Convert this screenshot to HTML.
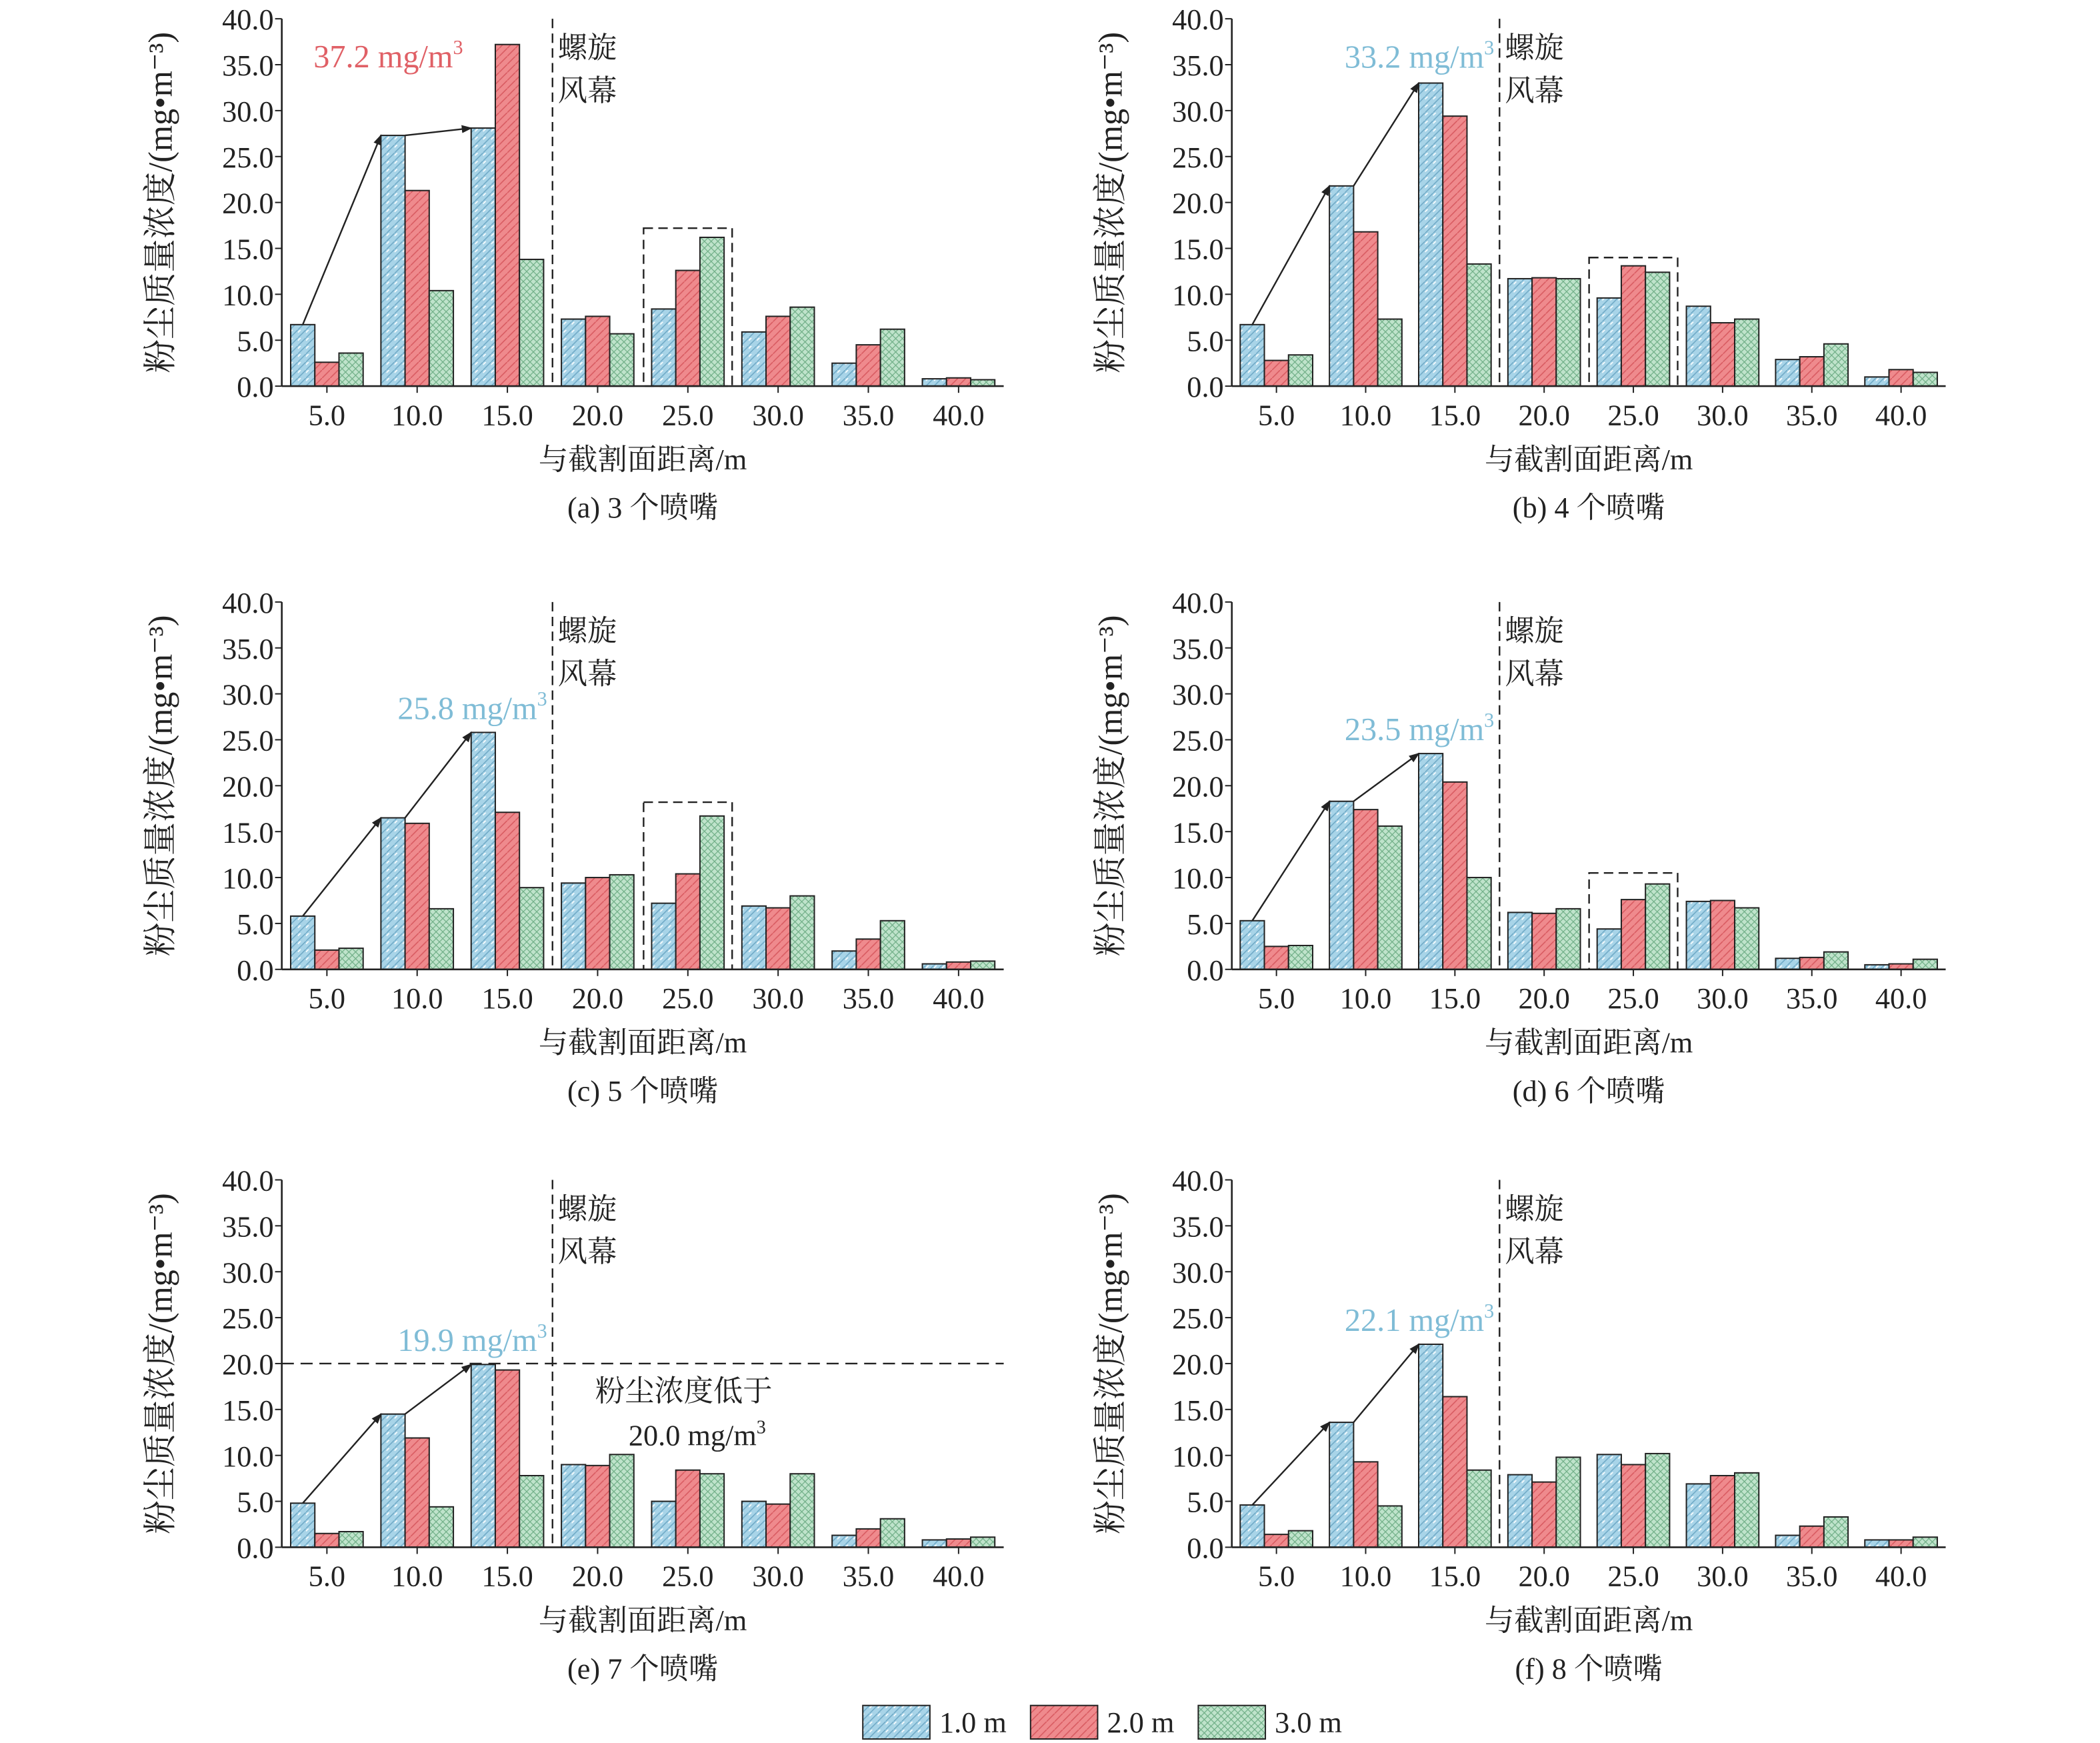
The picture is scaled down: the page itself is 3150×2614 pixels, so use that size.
<!DOCTYPE html>
<html><head><meta charset="utf-8"><style>
html,body{margin:0;padding:0;background:#fff;}
svg{display:block;font-family:"Liberation Serif","Noto Serif CJK SC",serif;}
</style></head><body>
<svg id="chart" width="3150" height="2614" viewBox="0 0 1565 1300" preserveAspectRatio="none" xmlns="http://www.w3.org/2000/svg">
<defs>
<pattern id="pb" width="6" height="6" patternUnits="userSpaceOnUse"><rect width="6" height="6" fill="#a8d4e8"/><path d="M0 6L6 0" stroke="#6fa9c6" stroke-width="0.8"/><path d="M0 2L2 0" stroke="#fff" stroke-width="0.8"/></pattern>
<pattern id="pr" width="6" height="6" patternUnits="userSpaceOnUse"><rect width="6" height="6" fill="#ef8a8d"/><path d="M0 6L6 0" stroke="#d85a60" stroke-width="0.8"/></pattern>
<pattern id="pg" width="5" height="5" patternUnits="userSpaceOnUse"><rect width="5" height="5" fill="#bfe3cb"/><path d="M0 0L5 5M5 0L0 5" stroke="#6fae86" stroke-width="0.6"/></pattern>
<marker id="arr" markerWidth="8" markerHeight="8" refX="7" refY="4" orient="auto" markerUnits="userSpaceOnUse"><path d="M0 1L8 4L0 7Z" fill="#222"/></marker>
</defs>
</svg>
<script>
const categories=["5.0","10.0","15.0","20.0","25.0","30.0","35.0","40.0"];
const yTicks=[0,5,10,15,20,25,30,35,40];
const seriesNames=["1.0 m","2.0 m","3.0 m"];
const a1=[6.7,27.3,28.1,7.3,8.4,5.9,2.5,0.8],a2=[2.6,21.3,37.2,7.6,12.6,7.6,4.5,0.9],a3=[3.6,10.4,13.8,5.7,16.2,8.6,6.2,0.7];
const b1=[6.7,21.8,33.0,11.7,9.6,8.7,2.9,1.0],b2=[2.8,16.8,29.4,11.8,13.1,6.9,3.2,1.8],b3=[3.4,7.3,13.3,11.7,12.4,7.3,4.6,1.5];
const c1=[5.8,16.5,25.8,9.4,7.2,6.9,2.0,0.6],c2=[2.1,15.9,17.1,10.0,10.4,6.7,3.3,0.8],c3=[2.3,6.6,8.9,10.3,16.7,8.0,5.3,0.9];
const d1=[5.3,18.3,23.5,6.2,4.4,7.4,1.2,0.5],d2=[2.5,17.4,20.4,6.1,7.6,7.5,1.3,0.6],d3=[2.6,15.6,10.0,6.6,9.3,6.7,1.9,1.1];
const e1=[4.8,14.5,19.9,9.0,5.0,5.0,1.3,0.8],e2=[1.5,11.9,19.3,8.9,8.4,4.7,2.0,0.9],e3=[1.7,4.4,7.8,10.1,8.0,8.0,3.1,1.1];
const f1=[4.6,13.6,22.1,7.9,10.1,6.9,1.3,0.8],f2=[1.4,9.3,16.4,7.1,9.0,7.8,2.3,0.8],f3=[1.8,4.5,8.4,9.8,10.2,8.1,3.3,1.1];
const peaks=["37.2","33.2","25.8","23.5","19.9","22.1"];
const boxTops=[17.2,14.0,18.2,10.5,null,null];
const captions=["(a) 3 个喷嘴","(b) 4 个喷嘴","(c) 5 个喷嘴","(d) 6 个喷嘴","(e) 7 个喷嘴","(f) 8 个喷嘴"];
const panels=[[a1,a2,a3],[b1,b2,b3],[c1,c2,c3],[d1,d2,d3],[e1,e2,e3],[f1,f2,f3]];
const svg=document.getElementById('chart');const NS="http://www.w3.org/2000/svg";
function mk(t,at,p){const e=document.createElementNS(NS,t);for(const k in at)e.setAttribute(k,at[k]);(p||svg).appendChild(e);return e;}
function tx(x,y,s,at,p){const e=mk('text',Object.assign({x:x,y:y,'font-size':22,fill:'#222'},at),p);e.textContent=s;return e;}
const fills=["url(#pb)","url(#pr)","url(#pg)"];
const xL=[210,918],yB=[288,723,1154],W=[538,532],H=274;
panels.forEach((ser,pi)=>{
 const col=pi%2,row=Math.floor(pi/2),x0=xL[col],y0=yB[row],w=W[col];
 const g=mk('g',{});
 
 
 const cw=w/categories.length;
 const X=i=>x0+cw*(i+0.5);
 const Y=v=>y0-v/40*H;
 const bw=18;
 ser.forEach((vals,si)=>vals.forEach((v,i)=>{
  const r=mk('rect',{x:X(i)-27+si*bw,y:Y(v),width:bw,height:y0-Y(v),fill:fills[si],stroke:'#222','stroke-width':1},g);
  
  
 }));
 mk('line',{x1:x0,y1:y0-H,x2:x0,y2:y0,stroke:'#222','stroke-width':1.3},g);
 mk('line',{x1:x0,y1:y0,x2:x0+w,y2:y0,stroke:'#222','stroke-width':1.3},g);
 yTicks.forEach(t=>{mk('line',{x1:x0-5,y1:Y(t),x2:x0,y2:Y(t),stroke:'#222'},g);
  const l=tx(x0-6,Y(t)+8,t.toFixed(1),{'text-anchor':'end'},g);
  
  });
 categories.forEach((c,i)=>{mk('line',{x1:X(i),y1:y0,x2:X(i),y2:y0+5,stroke:'#222'},g);
  const l=tx(X(i),y0+29,c,{'text-anchor':'middle'},g);
  
  });
 const xt=tx(x0+w/2,y0+62,"与截割面距离/m",{'text-anchor':'middle'},g);
 
 
 const cp=tx(x0+w/2,y0+98,captions[pi],{'text-anchor':'middle'},g);
 
 
 const yt=tx(0,0,"粉尘质量浓度/(mg•m⁻³)",{'text-anchor':'middle','font-size':25,transform:`translate(${x0-82},${y0-H/2}) rotate(-90)`},g);
 
 
 const dx=x0+cw*3;
 mk('line',{x1:dx,y1:y0-H,x2:dx,y2:y0,stroke:'#222','stroke-dasharray':'7,4','stroke-width':1.2},g);
 tx(dx+4,y0-H+29,"螺旋",{},g);tx(dx+4,y0-H+61,"风幕",{},g);
 const s=ser[0];
 mk('line',{x1:X(0)-18,y1:Y(s[0]),x2:X(1)-27,y2:Y(s[1]),stroke:'#222','stroke-width':1.2,'marker-end':'url(#arr)'},g);
 mk('line',{x1:X(1)-9,y1:Y(s[1]),x2:X(2)-27,y2:Y(s[2]),stroke:'#222','stroke-width':1.2,'marker-end':'url(#arr)'},g);
 const pk=tx(dx-4,pi==0?Y(37.2)+17:Y(parseFloat(peaks[pi]))-10,peaks[pi]+" mg/m",{'text-anchor':'end','font-size':24,fill:pi==0?'#e06066':'#7fbcd6'},g);
 const sup=mk('tspan',{'font-size':15,dy:-10},pk);sup.textContent="3";
 if(pi==0){pk.setAttribute('x',X(0)-10);pk.setAttribute('text-anchor','start');}
 
 
 if(boxTops[pi]!=null){mk('rect',{x:X(4)-33,y:Y(boxTops[pi]),width:66,height:y0-Y(boxTops[pi]),fill:'none',stroke:'#222','stroke-dasharray':'7,4','stroke-width':1.2},g);}
 if(pi==4){mk('line',{x1:x0,y1:Y(20),x2:x0+w,y2:Y(20),stroke:'#222','stroke-dasharray':'9,5','stroke-width':1.2},g);
  tx(X(4)-3,y0-109,"粉尘浓度低于",{'text-anchor':'middle'},g);
  const t2=tx(X(4)+7,y0-76,"20.0 mg/m",{'text-anchor':'middle'},g);const s2=mk('tspan',{'font-size':14,dy:-9},t2);s2.textContent="3";}
});
const lx=[643,768,893];
seriesNames.forEach((n,i)=>{
 const r=mk('rect',{x:lx[i],y:1272,width:50,height:25,fill:fills[i],stroke:'#222'});
 
 
 const t=tx(lx[i]+57,1292,n,{});
 
 
});
</script>
</body></html>
